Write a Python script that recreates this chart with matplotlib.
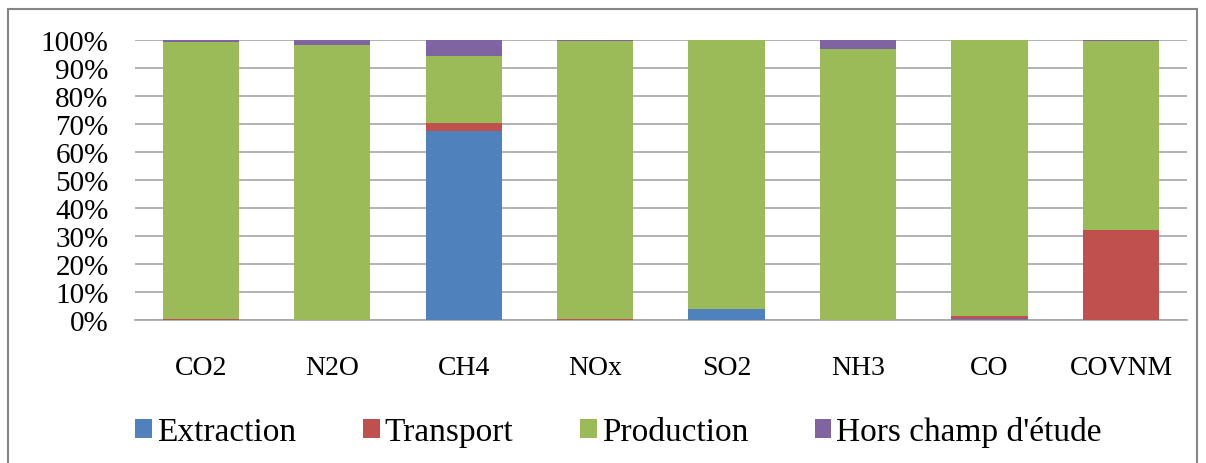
import matplotlib.pyplot as plt
import numpy as np
from matplotlib.patches import Rectangle

# Emission shares (%) by stage
categories = ["CO2", "N2O", "CH4", "NOx", "SO2", "NH3", "CO", "COVNM"]
extraction = [0.0, 0.0, 67.5, 0.0, 3.9, 0.0, 0.4, 0.0]
transport  = [0.5, 0.0, 2.9, 0.5, 0.0, 0.0, 1.0, 32.1]
production = [98.7, 98.0, 23.9, 99.2, 96.1, 96.8, 98.6, 67.4]
hors_champ = [0.8, 2.0, 5.7, 0.3, 0.0, 3.2, 0.0, 0.5]

series = [
    ("Extraction", extraction, "#4F81BD"),
    ("Transport", transport, "#C0504D"),
    ("Production", production, "#9BBB59"),
    ("Hors champ d'étude", hors_champ, "#8064A2"),
]

plt.rcParams["font.family"] = ["Liberation Serif", "DejaVu Serif"]

fig = plt.figure(figsize=(12.06, 4.64), dpi=100)
ax = fig.add_axes([0.112, 0.308, 0.872, 0.604])

x = np.arange(len(categories))
bottom = np.zeros(len(categories))
for name, vals, color in series:
    vals = np.array(vals)
    ax.bar(x, vals, width=0.58, bottom=bottom, color=color, label=name,
           edgecolor="none", zorder=3)
    bottom += vals

ax.set_xlim(-0.5, len(categories) - 0.5)
ax.set_ylim(0, 100)
ax.set_yticks(np.arange(0, 101, 10))
ax.set_yticklabels([f"{v}%" for v in range(0, 101, 10)], fontsize=21)
ax.set_xticks(x)
ax.set_xticklabels(categories, fontsize=20)
ax.tick_params(axis="x", length=0, pad=25)
ax.tick_params(axis="y", length=0, pad=19)
ax.grid(axis="y", color="#A6A6A6", lw=1.2, zorder=0)
for s in ["left", "right", "top"]:
    ax.spines[s].set_visible(False)
ax.spines["bottom"].set_color("#A6A6A6")
ax.spines["bottom"].set_linewidth(1.2)

fig.legend(loc="center", bbox_to_anchor=(0.513, 0.067), ncol=4, frameon=False,
           fontsize=24, handlelength=0.5, handleheight=0.5, handletextpad=0.15,
           columnspacing=2.0)

fig.patches.append(Rectangle((0.0066, -0.1), 0.986, 1.078, transform=fig.transFigure,
                             fill=False, edgecolor="#868686", lw=1.5))

fig.savefig("out.png", dpi=100)
